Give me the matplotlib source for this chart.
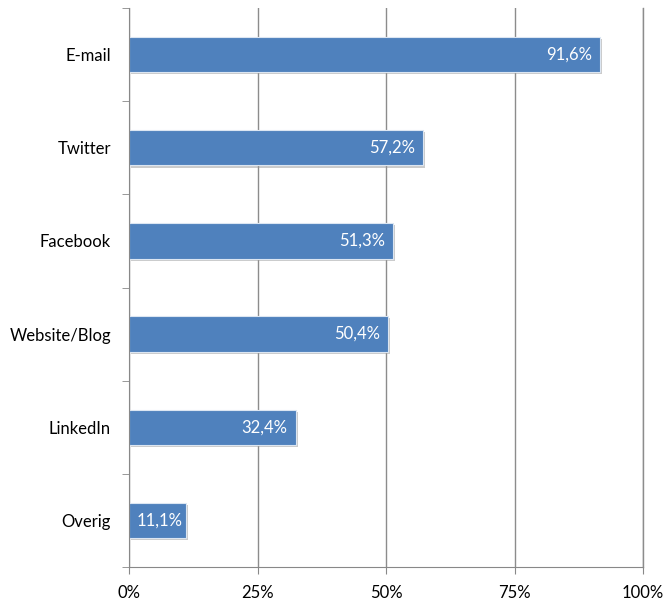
import matplotlib
matplotlib.use("Agg")
import matplotlib.pyplot as plt
import matplotlib.patheffects as pe
import numpy as np

categories = ["E-mail", "Twitter", "Facebook", "Website/Blog", "LinkedIn", "Overig"]
values = [91.6, 57.2, 51.3, 50.4, 32.4, 11.1]
labels = ["91,6%", "57,2%", "51,3%", "50,4%", "32,4%", "11,1%"]
xticks = [0, 25, 50, 75, 100]
xticklabels = ["0%", "25%", "50%", "75%", "100%"]

plt.rcParams['font.family'] = ['Lato', 'DejaVu Sans']

fig = plt.figure(figsize=(6.65, 6.03), dpi=100)
ax = fig.add_axes([129/665, 1-567/603, (643-129)/665, (567-8)/603])

n = len(categories)
y = np.arange(n)
bars = ax.barh(y, values, height=0.38, color="#4F81BD", edgecolor="#DCE6F2", linewidth=0.8, zorder=3,
               path_effects=[pe.SimplePatchShadow(offset=(1.5, -1.5), shadow_rgbFace="#999999", alpha=0.5), pe.Normal()])

ax.set_ylim(n - 0.5, -0.5)
ax.set_xlim(0, 100)
ax.set_xticks(xticks)
ax.set_xticklabels(xticklabels, fontsize=12)
ax.set_yticks(y)
ax.set_yticklabels(categories, fontsize=12)
ax.tick_params(axis="y", which="major", length=0, pad=13)
ax.set_yticks(np.arange(-0.5, n, 1), minor=True)
ax.tick_params(axis="y", which="minor", length=5, color="#888888", direction="out")
ax.tick_params(axis="x", length=5, color="#888888", direction="out", pad=8)
ax.grid(axis="x", color="#8C8C8C", linewidth=1, zorder=0)
ax.axvline(xticks[-1], color="#8C8C8C", linewidth=1, zorder=0, clip_on=False)
for s in ["top", "right"]:
    ax.spines[s].set_visible(False)
for s in ["left", "bottom"]:
    ax.spines[s].set_color("#888888")
    ax.spines[s].set_zorder(5)

fig.canvas.draw()
renderer = fig.canvas.get_renderer()
pad_pt = 8 * 72 / fig.dpi
for yi, v, lab in zip(y, values, labels):
    t = ax.annotate(lab, xy=(v, yi), xytext=(-pad_pt, 0), textcoords="offset points",
                    ha="right", va="center", color="white", fontsize=12, zorder=4)
    bb = t.get_window_extent(renderer)
    x0 = ax.transData.transform((0, yi))[0]
    if bb.x0 < x0 + 8:
        t.remove()
        ax.annotate(lab, xy=(0, yi), xytext=(pad_pt, 0), textcoords="offset points",
                    ha="left", va="center", color="white", fontsize=12, zorder=4)

fig.savefig("out.png", dpi=100, facecolor="white")
